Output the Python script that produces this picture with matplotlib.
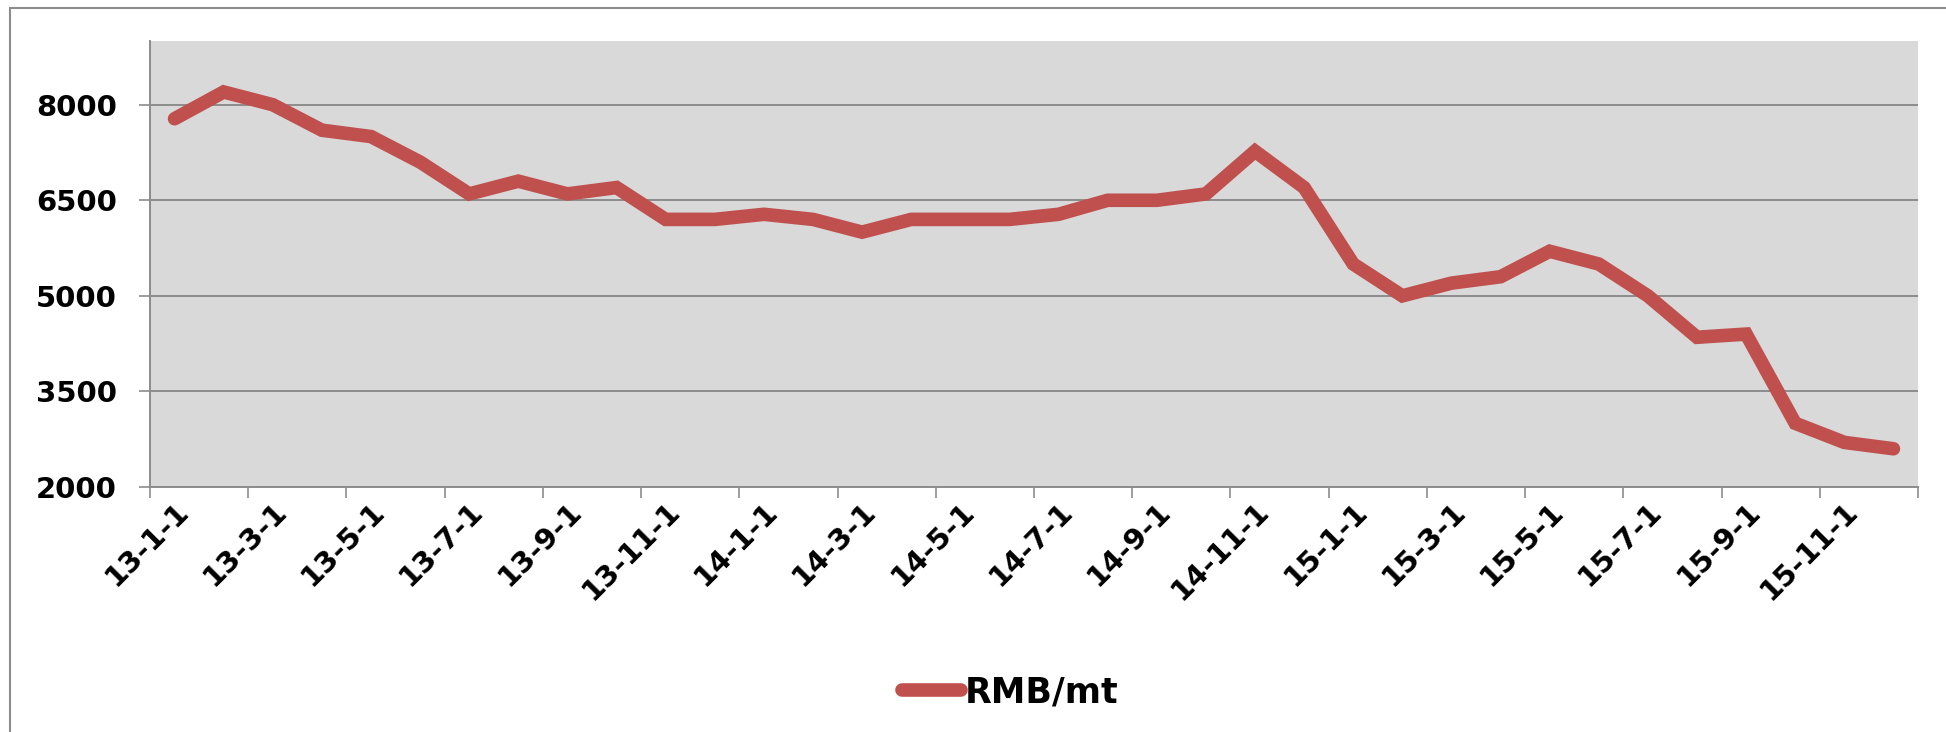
import matplotlib
matplotlib.use("Agg")
import matplotlib.pyplot as plt
from matplotlib.patches import Rectangle

# monthly price, 2013-01 .. 2015-12
months = [f"{y}-{m}-1" for y in (13, 14, 15) for m in range(1, 13)]
prices = [7780, 8200, 8000, 7600, 7500, 7100, 6600, 6800, 6600, 6700, 6200, 6200,
          6280, 6200, 6000, 6200, 6200, 6200, 6280, 6500, 6500, 6600, 7270, 6700,
          5500, 5000, 5200, 5300, 5700, 5500, 5000, 4350, 4400, 3000, 2700, 2600]
y_ticks = [2000, 3500, 5000, 6500, 8000]

red = "#C0504D"
grey = "#8C8C8C"

plt.rcParams['font.family'] = ['DejaVu Sans']
plt.rcParams['font.weight'] = 'bold'

fig = plt.figure(figsize=(19.46, 7.32), dpi=100)
ax = fig.add_axes([150 / 1946, 1 - 487 / 732, (1918 - 150) / 1946, (487 - 41) / 732])

x = list(range(len(months)))
ax.plot(x, prices, color=red, lw=9.8, solid_capstyle='round',
        solid_joinstyle='miter', label='RMB/mt', zorder=3)

ax.set_facecolor("#D9D9D9")
ax.set_xlim(-0.5, len(months) - 0.5)
ax.set_ylim(2000, 9000)

ax.set_yticks(y_ticks)
ax.set_yticklabels([str(v) for v in y_ticks])
ax.yaxis.grid(True, color=grey, lw=1.4)
ax.set_axisbelow(True)

# labels every second month, ticks on category boundaries
ax.set_xticks(x[::2])
ax.set_xticklabels(months[::2], rotation=45, ha='right', rotation_mode='anchor')
ax.tick_params(axis='x', length=0, pad=7)
ax.set_xticks([i - 0.5 for i in range(0, len(months) + 1, 2)], minor=True)
ax.tick_params(axis='x', which='minor', length=8, width=1.2, color=grey, direction='out')
ax.tick_params(axis='y', length=8, width=1.2, color=grey, direction='out', pad=16)
ax.tick_params(labelsize=21)

for s in ('top', 'right'):
    ax.spines[s].set_visible(False)
for s in ('left', 'bottom'):
    ax.spines[s].set_color(grey)
    ax.spines[s].set_linewidth(1.4)

leg = ax.legend(loc='center', bbox_to_anchor=(1010 / 1946, 1 - 692 / 732), bbox_transform=fig.transFigure,
                frameon=False, fontsize=25, handlelength=1.7, handletextpad=0.1)

# outer chart border
fig.patches.append(Rectangle((10 / 1946, -0.1), 1.2, 1.1 - 8 / 732, transform=fig.transFigure,
                             fill=False, edgecolor=grey, lw=1.5))

fig.savefig("out.png", dpi=100)
